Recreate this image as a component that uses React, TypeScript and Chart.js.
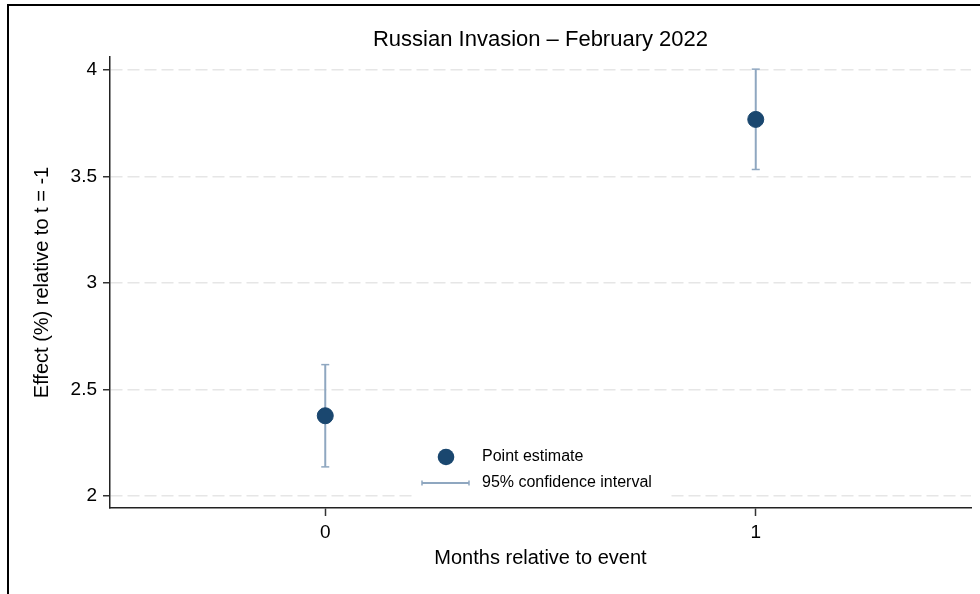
import React, { useEffect, useRef } from "react";
import { Chart, registerables } from "chart.js";

Chart.register(...registerables);

const months = [0, 1];
const estimates = [2.377, 3.768];
const ciLower = [2.137, 3.533];
const ciUpper = [2.617, 4.004];
const yTicks = [2, 2.5, 3, 3.5, 4];
const yTickLabels = ["2", "2.5", "3", "3.5", "4"];
const xTicks = [0, 1];
const xTickLabels = ["0", "1"];
const legendLabels = ["Point estimate", "95% confidence interval"];
const chartTitle = "Russian Invasion \u2013 February 2022";
const xTitle = "Months relative to event";
const yTitle = "Effect (%) relative to t = -1";

const NAVY = "#1a476f";
const CI = "#8fa7c0";
const FONT = "'Liberation Sans', Arial, sans-serif";

const framePlugin = {
  id: "frame",
  beforeDraw(chart: any) {
    const { ctx, width, height } = chart;
    ctx.save();
    ctx.fillStyle = "#ffffff";
    ctx.fillRect(0, 0, width, height);
    ctx.fillStyle = "#000000";
    ctx.fillRect(7, 4, width - 7, 2);
    ctx.fillRect(7, 4, 2, height - 4);
    ctx.restore();
  },
};

const legendPlugin = {
  id: "insideLegend",
  afterDatasetsDraw(chart: any) {
    const { ctx, chartArea } = chart;
    const bx = chartArea.left + 303;
    const by = chartArea.top + 383;
    ctx.save();
    ctx.fillStyle = "#ffffff";
    ctx.fillRect(bx, by, 257, 60);
    // marker
    ctx.fillStyle = NAVY;
    ctx.beginPath();
    ctx.arc(bx + 33, by + 17, 8.3, 0, Math.PI * 2);
    ctx.fill();
    // CI symbol
    ctx.strokeStyle = CI;
    ctx.lineWidth = 2;
    ctx.beginPath();
    ctx.moveTo(bx + 9, by + 43);
    ctx.lineTo(bx + 56, by + 43);
    ctx.stroke();
    ctx.lineWidth = 1.5;
    ctx.beginPath();
    ctx.moveTo(bx + 9, by + 40.5);
    ctx.lineTo(bx + 9, by + 45.5);
    ctx.moveTo(bx + 56, by + 40.5);
    ctx.lineTo(bx + 56, by + 45.5);
    ctx.stroke();
    // labels
    ctx.fillStyle = "#000000";
    ctx.font = `16px ${FONT}`;
    ctx.textAlign = "left";
    ctx.textBaseline = "middle";
    ctx.fillText(legendLabels[0], bx + 69, by + 17);
    ctx.fillText(legendLabels[1], bx + 69, by + 43);
    ctx.restore();
  },
};

export default function App() {
  const ref = useRef<HTMLCanvasElement>(null);

  useEffect(() => {
    if (!ref.current) return;
    Chart.defaults.font.family = FONT;
    const ciSets = months.map((m, i) => ({
      label: "ci" + i,
      data: [
        { x: m, y: ciLower[i] },
        { x: m, y: ciUpper[i] },
      ],
      showLine: true,
      borderColor: CI,
      borderWidth: 2,
      pointStyle: "line",
      pointRadius: 4,
      pointHoverRadius: 4,
      pointBorderColor: CI,
      pointBorderWidth: 1.5,
      backgroundColor: CI,
      order: 2,
    }));
    const chart = new Chart(ref.current, {
      type: "scatter",
      data: {
        datasets: [
          {
            label: legendLabels[0],
            data: months.map((m, i) => ({ x: m, y: estimates[i] })),
            backgroundColor: NAVY,
            borderColor: NAVY,
            borderWidth: 1,
            pointRadius: 8,
            pointHoverRadius: 8,
            order: 1,
          },
          ...ciSets,
        ] as any,
      },
      options: {
        animation: false,
        responsive: false,
        devicePixelRatio: 1,
        events: [],
        layout: { padding: { left: 0, right: 8, top: 0, bottom: 0 } },
        plugins: {
          legend: { display: false },
          tooltip: { enabled: false },
          title: {
            display: true,
            text: chartTitle,
            fullSize: false,
            color: "#000",
            font: { size: 22, weight: "normal" },
            padding: { top: 27, bottom: 3.6 },
          },
        },
        scales: {
          x: {
            type: "linear",
            min: -0.5,
            max: 1.5,
            afterBuildTicks: (s: any) => {
              s.ticks = xTicks.map((v) => ({ value: v }));
            },
            afterFit: (s: any) => {
              s.height = 86;
            },
            ticks: {
              color: "#000",
              font: { size: 19 },
              padding: 5,
              callback: (v: any) => xTickLabels[xTicks.indexOf(Number(v))] ?? "",
            },
            grid: {
              drawOnChartArea: false,
              drawTicks: true,
              tickLength: 8,
              tickColor: "#333",
              tickWidth: 1.5,
              color: "#333",
            },
            border: { display: true, color: "#222", width: 1.5 },
            title: {
              display: true,
              text: xTitle,
              color: "#000",
              font: { size: 20 },
              padding: { top: 0, bottom: 24 },
            },
          },
          y: {
            type: "linear",
            min: 1.944,
            max: 4.061,
            afterBuildTicks: (s: any) => {
              s.ticks = yTicks.map((v) => ({ value: v }));
            },
            afterFit: (s: any) => {
              s.width = 110;
            },
            ticks: {
              color: "#000",
              font: { size: 19 },
              padding: 6,
              callback: (v: any) => yTickLabels[yTicks.indexOf(Number(v))] ?? "",
            },
            grid: {
              drawOnChartArea: true,
              drawTicks: true,
              tickLength: 7,
              tickColor: "#333",
              tickWidth: 1.5,
              color: "#e6e6e6",
              lineWidth: 1.5,
            },
            border: { display: true, color: "#222", width: 1.5, dash: [12, 5] },
            title: {
              display: true,
              text: yTitle,
              color: "#000",
              font: { size: 20 },
              padding: { top: 30, bottom: 0 },
            },
          },
        },
      },
      plugins: [framePlugin, legendPlugin],
    } as any);
    return () => chart.destroy();
  }, []);

  return (
    <div style={{ position: "fixed", left: 0, top: 0, width: 980, height: 594, background: "#fff" }}>
      <canvas ref={ref} width={980} height={594} style={{ display: "block" }} />
    </div>
  );
}
